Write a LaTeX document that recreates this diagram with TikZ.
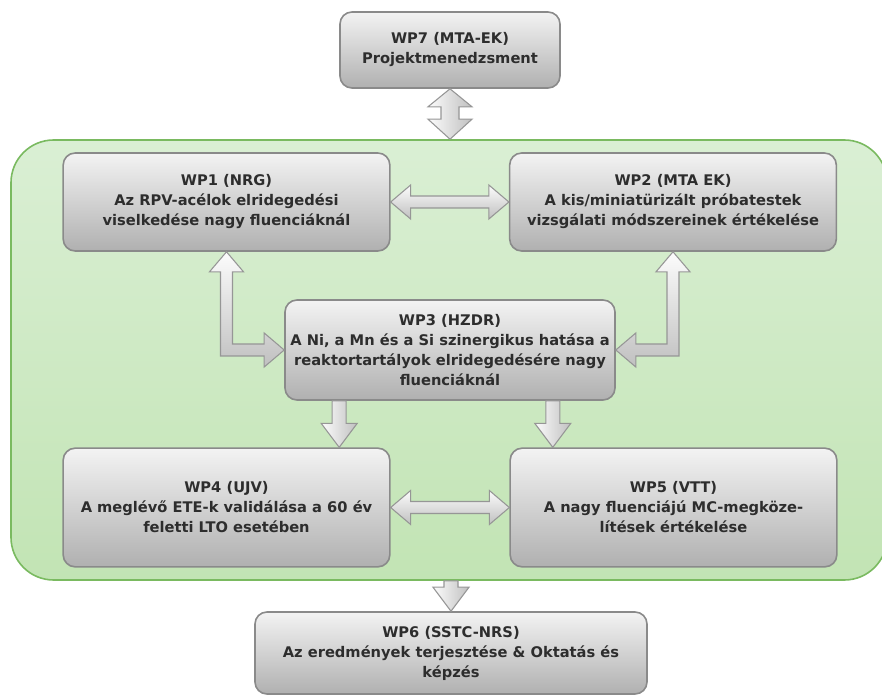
\documentclass[tikz,border=0pt]{standalone}
\usepackage{fontspec}
\setsansfont{DejaVu Sans}
\usepackage{tikz}
\usetikzlibrary{calc}
\definecolor{boxtop}{RGB}{243,243,243}
\definecolor{boxbot}{RGB}{176,176,176}
\definecolor{boxline}{RGB}{138,138,138}
\definecolor{frametop}{RGB}{218,239,212}
\definecolor{framebot}{RGB}{194,228,180}
\definecolor{frameline}{RGB}{122,186,96}
\definecolor{arrlight}{RGB}{252,252,252}
\definecolor{arrdark}{RGB}{192,192,192}
\definecolor{arrline}{RGB}{150,150,150}
\definecolor{textgrey}{RGB}{45,45,45}

% horizontal double block arrow, tips at #1 (left) and #2 (right)
\newcommand{\blockhoriz}[2]{%
  \draw[fatarrow, top color=arrlight, bottom color=arrdark]
    (#1) -- ($(#1)+(20,-17)$) -- ($(#1)+(20,-6)$) -- ($(#2)+(-20,-6)$)
    -- ($(#2)+(-20,-17)$) -- (#2) -- ($(#2)+(-20,17)$) -- ($(#2)+(-20,6)$)
    -- ($(#1)+(20,6)$) -- ($(#1)+(20,17)$) -- cycle;}
% single block arrow pointing down, from #1 to tip #2
\newcommand{\blockdown}[2]{%
  \draw[fatarrow, left color=arrlight, right color=arrdark]
    ($(#1)+(-7,0)$) -- ($(#2)+(-7,-24)$) -- ($(#2)+(-18,-24)$) -- (#2)
    -- ($(#2)+(18,-24)$) -- ($(#2)+(7,-24)$) -- ($(#1)+(7,0)$) -- cycle;}

\begin{document}
\begin{tikzpicture}[
    x=0.75pt, y=-0.75pt,
    wpbox/.style={rectangle, draw=boxline, line width=1.2pt, rounded corners=9pt,
                  top color=boxtop, bottom color=boxbot, inner sep=0pt,
                  align=center, text=textgrey,
                  font=\sffamily\bfseries\fontsize{11}{15}\selectfont},
    frame/.style={rectangle, draw=frameline, line width=1.2pt, rounded corners=32pt,
                  top color=frametop, bottom color=framebot,
                  minimum width=657pt, minimum height=330pt},
    fatarrow/.style={draw=arrline, line width=0.8pt, line join=miter}
]
\useasboundingbox (0,0) rectangle (882,698);

% green work area
\node[frame] (frame) at (449,360) {};

% work packages
\node[wpbox, minimum width=165pt, minimum height=57pt] (wp7) at (450,50)
    {WP7 (MTA-EK)\\Projektmenedzsment};
\node[wpbox, minimum width=245pt, minimum height=73.5pt] (wp1) at (226.5,202)
    {WP1 (NRG)\\Az RPV-acélok elridegedési\\viselkedése nagy fluenciáknál};
\node[wpbox, minimum width=245pt, minimum height=73.5pt] (wp2) at (673,202)
    {WP2 (MTA EK)\\A kis/miniatürizált próbatestek\\vizsgálati módszereinek értékelése};
\node[wpbox, minimum width=247.5pt, minimum height=75pt] (wp3) at (450,350)
    {WP3 (HZDR)\\A Ni, a Mn és a Si szinergikus hatása a\\reaktortartályok elridegedésére nagy\\fluenciáknál};
\node[wpbox, minimum width=245pt, minimum height=89pt] (wp4) at (226.5,507.5)
    {WP4 (UJV)\\A meglévő ETE-k validálása a 60 év\\feletti LTO esetében};
\node[wpbox, minimum width=245pt, minimum height=89pt] (wp5) at (673.5,507.5)
    {WP5 (VTT)\\A nagy fluenciájú MC-megköze-\\lítések értékelése};
\node[wpbox, minimum width=294pt, minimum height=61.5pt] (wp6) at (451,653)
    {WP6 (SSTC-NRS)\\Az eredmények terjesztése \& Oktatás és\\képzés};

% WP7 <-> work area
\coordinate (t1) at (wp7.south);
\coordinate (t2) at (wp7.south |- frame.north);
\draw[fatarrow, left color=arrlight, right color=arrdark]
    (t1) -- ($(t1)+(22,18)$) -- ($(t1)+(9,18)$) -- ($(t2)+(9,-20)$)
    -- ($(t2)+(22,-20)$) -- (t2) -- ($(t2)+(-22,-20)$) -- ($(t2)+(-9,-20)$)
    -- ($(t1)+(-9,18)$) -- ($(t1)+(-22,18)$) -- cycle;

% horizontal links
\blockhoriz{wp1.east}{wp2.west}
\blockhoriz{wp4.east}{wp5.west}

% WP1 <-> WP3
\coordinate (c1) at (wp1.south |- wp3.west);
\draw[fatarrow, top color=arrlight, bottom color=arrdark]
    (wp1.south) -- ($(wp1.south)+(17,20)$) -- ($(wp1.south)+(6,20)$)
    -- ($(c1)+(6,-6)$) -- ($(wp3.west)+(-20,-6)$) -- ($(wp3.west)+(-20,-17)$)
    -- (wp3.west) -- ($(wp3.west)+(-20,17)$) -- ($(wp3.west)+(-20,6)$)
    -- ($(c1)+(-6,6)$) -- ($(wp1.south)+(-6,20)$) -- ($(wp1.south)+(-17,20)$) -- cycle;

% WP2 <-> WP3
\coordinate (c2) at (wp2.south |- wp3.east);
\draw[fatarrow, top color=arrlight, bottom color=arrdark]
    (wp2.south) -- ($(wp2.south)+(17,20)$) -- ($(wp2.south)+(6,20)$)
    -- ($(c2)+(6,6)$) -- ($(wp3.east)+(20,6)$) -- ($(wp3.east)+(20,17)$)
    -- (wp3.east) -- ($(wp3.east)+(20,-17)$) -- ($(wp3.east)+(20,-6)$)
    -- ($(c2)+(-6,-6)$) -- ($(wp2.south)+(-6,20)$) -- ($(wp2.south)+(-17,20)$) -- cycle;

% WP3 -> WP4, WP5
\coordinate (d1) at ($(wp3.south west)+(55,0)$);
\coordinate (d1e) at (d1 |- wp4.north);
\coordinate (d2) at ($(wp3.south east)+(-63,0)$);
\coordinate (d2e) at (d2 |- wp5.north);
\blockdown{d1}{d1e}
\blockdown{d2}{d2e}

% work area -> WP6
\coordinate (b1) at (wp6.north |- frame.south);
\blockdown{b1}{wp6.north}
\end{tikzpicture}
\end{document}
